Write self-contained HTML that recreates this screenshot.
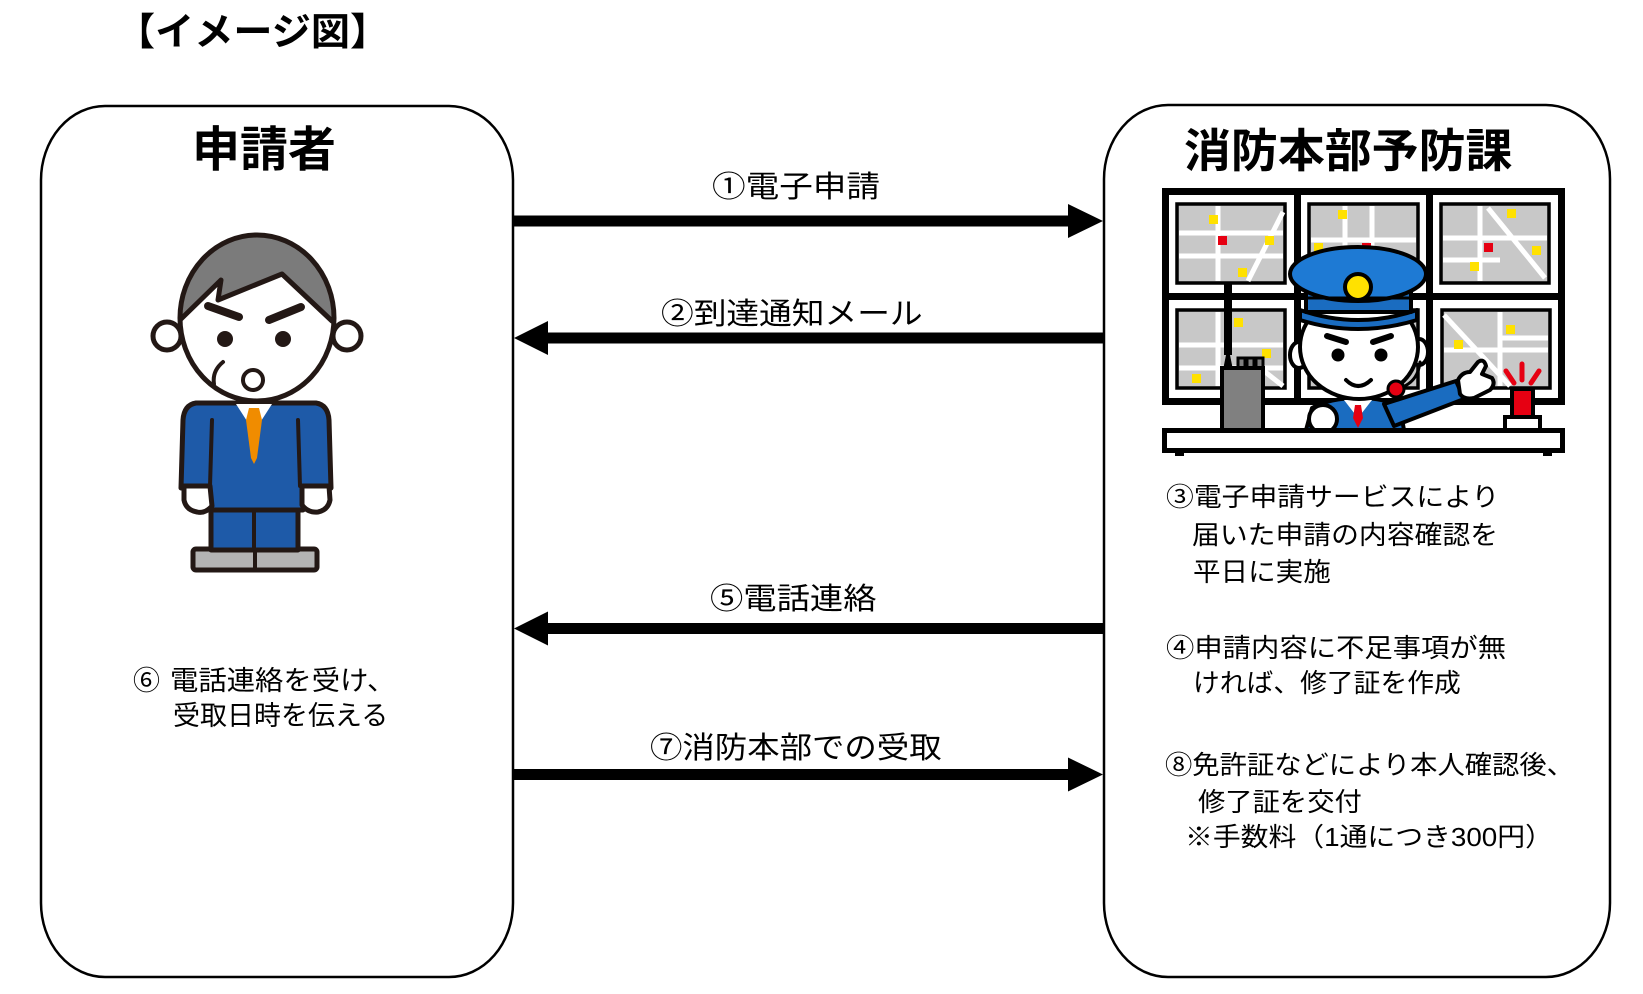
<!DOCTYPE html>
<html lang="ja">
<head>
<meta charset="utf-8">
<style>
  html,body{margin:0;padding:0;background:#fff;}
  body{width:1643px;height:994px;position:relative;overflow:hidden;
       font-family:"Liberation Sans","Noto Sans CJK JP",sans-serif;color:#000;}
  .t{position:absolute;white-space:nowrap;line-height:1;transform-origin:0 0;}
  svg{position:absolute;left:0;top:0;}
</style>
</head>
<body>
<svg width="1643" height="994" viewBox="0 0 1643 994" xmlns="http://www.w3.org/2000/svg">
  <!-- main boxes -->
  <rect x="41" y="106" width="472" height="871" rx="64" ry="74" fill="#fff" stroke="#000" stroke-width="2.5"/>
  <rect x="1104" y="105" width="506" height="872" rx="64" ry="74" fill="#fff" stroke="#000" stroke-width="2.5"/>

  <!-- arrows -->
  <rect x="514" y="215.5" width="557" height="11" fill="#000"/>
  <polygon points="1068,204 1103,221 1068,238" fill="#000"/>

  <rect x="546" y="332.5" width="557" height="11" fill="#000"/>
  <polygon points="514,338 548,321 548,355" fill="#000"/>

  <rect x="546" y="623" width="557" height="11" fill="#000"/>
  <polygon points="514,628.5 548,611.5 548,645.5" fill="#000"/>

  <rect x="514" y="769" width="557" height="11" fill="#000"/>
  <polygon points="1068,757.5 1103,774.5 1068,791.5" fill="#000"/>

  <!-- ===== applicant (man) ===== -->
  <defs>
    <clipPath id="headclip"><ellipse cx="257" cy="318" rx="77" ry="83"/></clipPath>
  </defs>
  <g stroke="#231815" stroke-linejoin="round" stroke-linecap="round">
    <!-- shoes -->
    <rect x="193" y="549" width="124" height="21" rx="3" fill="#b4b4b4" stroke-width="5"/>
    <line x1="255" y1="549" x2="255" y2="570" stroke-width="4"/>
    <!-- legs -->
    <rect x="211" y="505" width="87" height="45" fill="#1e5aa8" stroke-width="5"/>
    <line x1="254" y1="505" x2="254" y2="550" stroke-width="4"/>
    <!-- suit -->
    <path d="M196 403 L316 403 Q328 405 329 420 L331 488 L303 488 L303 510 L207 510 L207 488 L181 488 L183 420 Q184 405 196 403 Z" fill="#1e5aa8" stroke-width="5"/>
    <line x1="212" y1="420" x2="210" y2="486" stroke-width="4"/>
    <line x1="298" y1="420" x2="300" y2="486" stroke-width="4"/>
    <!-- collar & tie -->
    <polygon points="236,404 272,404 254,432" fill="#fff" stroke="none"/>
    <polygon points="249,408 259,408 262,420 257,458 254,464 251,458 246,420" fill="#f08c00" stroke="none"/>
    <!-- hands -->
    <path d="M184 486 L210 486 L212 506 Q205 514 197 512 Q186 510 184 500 Z" fill="#fff" stroke-width="5"/>
    <path d="M302 486 L329 486 L330 500 Q328 510 318 512 Q308 513 302 505 Z" fill="#fff" stroke-width="5"/>
    <!-- ears -->
    <circle cx="167" cy="336" r="14" fill="#fff" stroke-width="5"/>
    <circle cx="347" cy="336" r="14" fill="#fff" stroke-width="5"/>
    <!-- head -->
    <ellipse cx="257" cy="318" rx="77" ry="83" fill="#fff" stroke="none"/>
    <path d="M150 323 L183 318 L221 280 L218 300 L282 274 L332 321 L360 321 L360 220 L150 220 Z" fill="#7b7b7b" stroke="none" clip-path="url(#headclip)"/>
    <path d="M181 319 L221 280 L218 300 L282 274 L332 321" fill="none" stroke-width="5"/>
    <ellipse cx="257" cy="318" rx="77" ry="83" fill="none" stroke-width="5"/>
    <!-- brows -->
    <line x1="208" y1="306" x2="239" y2="317" stroke-width="8"/>
    <line x1="269" y1="320" x2="301" y2="307" stroke-width="8"/>
    <!-- eyes -->
    <circle cx="225" cy="339" r="8" fill="#231815" stroke="none"/>
    <circle cx="283" cy="339" r="8" fill="#231815" stroke="none"/>
    <!-- sweat -->
    <path d="M214 384 Q212 371 223 362" fill="none" stroke-width="4"/>
    <!-- mouth -->
    <circle cx="253" cy="380" r="10" fill="#fff" stroke-width="4"/>
  </g>

  <!-- ===== fire dept illustration ===== -->
  <!-- frame -->
  <rect x="1165.5" y="191.5" width="396" height="210" fill="#fff" stroke="#000" stroke-width="7"/>
  <rect x="1294" y="191" width="7" height="211" fill="#000"/>
  <rect x="1426" y="191" width="7" height="211" fill="#000"/>
  <rect x="1162" y="293" width="403" height="7" fill="#000"/>
  <!-- screens -->
  <g stroke="#000" stroke-width="3.5" fill="#c8c8c8">
    <rect x="1177" y="204" width="108" height="79"/>
    <rect x="1309" y="204" width="109" height="79"/>
    <rect x="1441" y="204" width="108" height="79"/>
    <rect x="1177" y="310" width="108" height="78"/>
    <rect x="1309" y="310" width="109" height="78"/>
    <rect x="1442" y="310" width="108" height="78"/>
  </g>
  <g stroke="#fff" stroke-width="5" fill="none">
    <line x1="1218" y1="206" x2="1218" y2="281"/>
    <line x1="1179" y1="233" x2="1283" y2="233"/>
    <line x1="1179" y1="256" x2="1283" y2="256"/>
    <line x1="1248" y1="281" x2="1283" y2="212"/>
    <line x1="1345" y1="206" x2="1345" y2="281"/>
    <line x1="1372" y1="206" x2="1372" y2="281"/>
    <line x1="1311" y1="240" x2="1416" y2="240"/>
    <line x1="1480" y1="206" x2="1480" y2="281"/>
    <line x1="1443" y1="238" x2="1547" y2="238"/>
    <line x1="1443" y1="260" x2="1500" y2="260"/>
    <line x1="1488" y1="208" x2="1545" y2="278"/>
    <line x1="1218" y1="312" x2="1218" y2="386"/>
    <line x1="1179" y1="345" x2="1283" y2="345"/>
    <line x1="1179" y1="368" x2="1283" y2="368"/>
    <line x1="1250" y1="360" x2="1283" y2="386"/>
    <line x1="1444" y1="315" x2="1510" y2="386"/>
    <line x1="1500" y1="312" x2="1500" y2="386"/>
    <line x1="1444" y1="350" x2="1548" y2="350"/>
    <line x1="1500" y1="338" x2="1548" y2="338"/>
  </g>
  <g stroke="none">
    <rect x="1209" y="215" width="9" height="9" fill="#ffe100"/>
    <rect x="1265" y="236" width="9" height="9" fill="#ffe100"/>
    <rect x="1238" y="268" width="9" height="9" fill="#ffe100"/>
    <rect x="1218" y="236" width="9" height="9" fill="#e60012"/>
    <rect x="1338" y="210" width="9" height="9" fill="#ffe100"/>
    <rect x="1314" y="243" width="9" height="9" fill="#ffe100"/>
    <rect x="1362" y="243" width="9" height="9" fill="#e60012"/>
    <rect x="1507" y="209" width="9" height="9" fill="#ffe100"/>
    <rect x="1532" y="246" width="9" height="9" fill="#ffe100"/>
    <rect x="1470" y="262" width="9" height="9" fill="#ffe100"/>
    <rect x="1484" y="243" width="9" height="9" fill="#e60012"/>
    <rect x="1234" y="318" width="9" height="9" fill="#ffe100"/>
    <rect x="1262" y="349" width="9" height="9" fill="#ffe100"/>
    <rect x="1192" y="374" width="9" height="9" fill="#ffe100"/>
    <rect x="1506" y="325" width="9" height="9" fill="#ffe100"/>
    <rect x="1454" y="340" width="9" height="9" fill="#ffe100"/>
  </g>
  <!-- radio -->
  <rect x="1224" y="283" width="8" height="72" fill="#000"/>
  <polygon points="1221,380 1228,345 1235,380" fill="#000"/>
  <g stroke="#000" stroke-width="3" fill="#808080">
    <rect x="1238" y="358" width="7" height="12"/>
    <rect x="1247" y="358" width="7" height="12"/>
    <rect x="1256" y="358" width="7" height="12"/>
  </g>
  <rect x="1222" y="368" width="41" height="62" fill="#808080" stroke="#000" stroke-width="4"/>
  <!-- police officer -->
  <g stroke="#000" stroke-width="4" stroke-linejoin="round" stroke-linecap="round">
    <path d="M1306 430 L1312 408 Q1330 398 1358 398 Q1388 398 1400 408 L1404 430 Z" fill="#1a6cc0"/>
    <polygon points="1344,400 1372,400 1358,418" fill="#fff" stroke="none"/>
    <polygon points="1355,405 1361,405 1363,418 1358,428 1353,418" fill="#e60012" stroke="none"/>
    <circle cx="1323" cy="419" r="14" fill="#fff"/>
    <polygon points="1384,404 1456,381 1464,399 1394,426" fill="#1a6cc0"/>
    <path d="M1458 380 Q1462 372 1470 372 L1478 362 Q1484 358 1486 366 L1482 374 L1492 378 Q1496 384 1490 390 L1474 398 Q1464 400 1460 394 Z" fill="#fff"/>
    <ellipse cx="1299" cy="355" rx="9" ry="13" fill="#fff"/>
    <ellipse cx="1419" cy="352" rx="9" ry="13" fill="#fff"/>
    <ellipse cx="1359" cy="347" rx="59" ry="52" fill="#fff"/>
    <path d="M1420 362 Q1418 382 1400 388" fill="none" stroke-width="3"/>
    <circle cx="1396" cy="389" r="8" fill="#e60012" stroke-width="3"/>
    <line x1="1327" y1="336" x2="1346" y2="342" stroke-width="6"/>
    <line x1="1373" y1="342" x2="1391" y2="336" stroke-width="6"/>
    <circle cx="1338" cy="355" r="6.5" fill="#000" stroke="none"/>
    <circle cx="1381" cy="355" r="6.5" fill="#000" stroke="none"/>
    <path d="M1346 380 Q1358 392 1371 380" fill="none"/>
    <path d="M1300 310 Q1358 330 1417 310 L1417 320 Q1358 338 1300 320 Z" fill="#1a6cc0"/>
    <rect x="1306" y="286" width="105" height="26" fill="#1a6cc0"/>
    <ellipse cx="1358" cy="274" rx="68" ry="27" fill="#1e7ad4"/>
    <line x1="1306" y1="298" x2="1411" y2="298" stroke-width="3"/>
    <circle cx="1358" cy="287" r="13" fill="#ffe100"/>
  </g>
  <!-- siren -->
  <g stroke="#e60012" stroke-width="5" stroke-linecap="round">
    <line x1="1506" y1="371" x2="1514" y2="383"/>
    <line x1="1522" y1="364" x2="1522" y2="380"/>
    <line x1="1539" y1="371" x2="1531" y2="383"/>
  </g>
  <rect x="1512" y="389" width="21" height="29" fill="#e60012" stroke="#000" stroke-width="4"/>
  <rect x="1505" y="417" width="35" height="13" fill="#fff" stroke="#000" stroke-width="4"/>
  <!-- desk -->
  <rect x="1164.5" y="430.5" width="398" height="20" fill="#fff" stroke="#000" stroke-width="5"/>
  <rect x="1175" y="452" width="9" height="4" fill="#000"/>
  <rect x="1543" y="452" width="9" height="4" fill="#000"/>
</svg>

<!-- headings -->
<div class="t" style="left:116px;top:14px;font-size:38px;font-weight:bold;transform:scaleX(1.03);">【イメージ図】</div>
<div class="t" style="left:192px;top:127px;font-size:48px;font-weight:bold;">申請者</div>
<div class="t" style="left:1184px;top:128px;font-size:46px;font-weight:bold;transform:scaleX(1.02);">消防本部予防課</div>

<!-- arrow labels -->
<div class="t" style="left:712px;top:173px;font-size:30px;transform:scaleX(1.12);">①電子申請</div>
<div class="t" style="left:661px;top:300px;font-size:30px;transform:scaleX(1.09);">②到達通知メール</div>
<div class="t" style="left:710px;top:585px;font-size:30px;transform:scaleX(1.11);">⑤電話連絡</div>
<div class="t" style="left:650px;top:734px;font-size:30px;transform:scaleX(1.08);">⑦消防本部での受取</div>

<!-- left text -->
<div class="t" style="left:133px;top:668px;font-size:27px;">⑥</div>
<div class="t" style="left:170px;top:668px;font-size:27px;transform:scaleX(1.05);">電話連絡を受け、</div>
<div class="t" style="left:173px;top:703px;font-size:27px;transform:scaleX(1.0);">受取日時を伝える</div>

<!-- right text -->
<div class="t" style="left:1166px;top:484px;font-size:26px;transform:scaleX(1.07);">③電子申請サービスにより</div>
<div class="t" style="left:1192px;top:522px;font-size:26px;transform:scaleX(1.07);">届いた申請の内容確認を</div>
<div class="t" style="left:1193px;top:559px;font-size:26px;transform:scaleX(1.06);">平日に実施</div>
<div class="t" style="left:1166px;top:635px;font-size:26px;transform:scaleX(1.09);">④申請内容に不足事項が無</div>
<div class="t" style="left:1193px;top:670px;font-size:26px;transform:scaleX(1.03);">ければ、修了証を作成</div>
<div class="t" style="left:1165px;top:752px;font-size:26px;transform:scaleX(1.05);">⑧免許証などにより本人確認後、</div>
<div class="t" style="left:1198px;top:789px;font-size:26px;transform:scaleX(1.05);">修了証を交付</div>
<div class="t" style="left:1185px;top:824px;font-size:26px;transform:scaleX(1.07);">※手数料（1通につき300円）</div>
</body>
</html>
